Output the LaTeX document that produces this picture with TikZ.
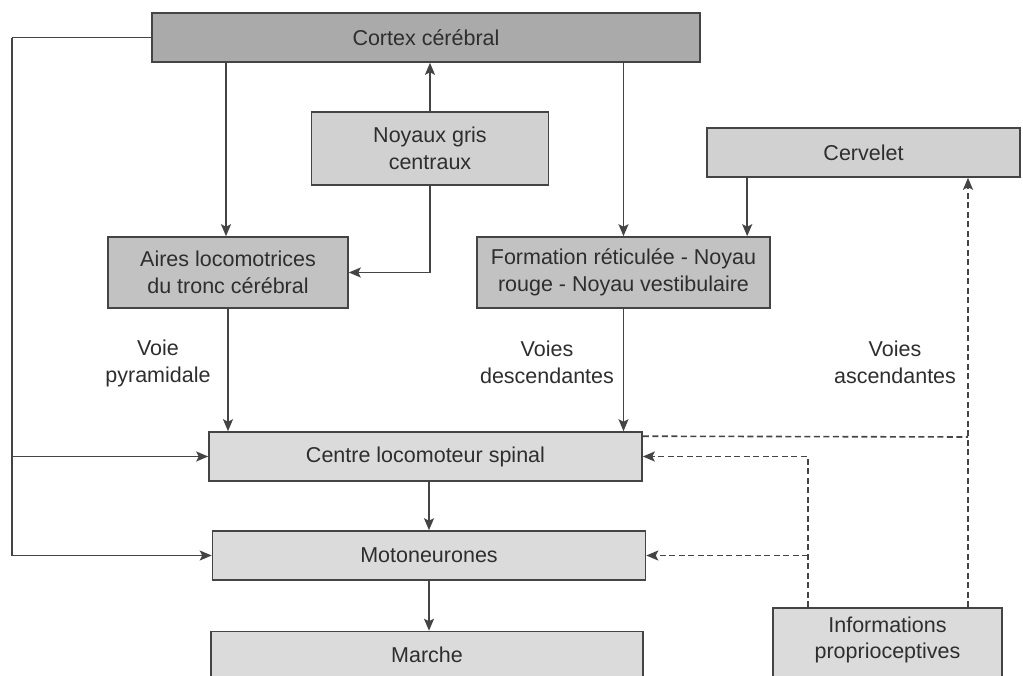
\documentclass[tikz,border=0pt]{standalone}
\usepackage{fontspec}
\setmainfont{Liberation Sans}
\usetikzlibrary{arrows.meta}
\definecolor{txt}{HTML}{2E2E2E}
\definecolor{ln}{HTML}{444444}
\definecolor{fA}{HTML}{AAAAAA}
\definecolor{fB}{HTML}{C2C2C2}
\definecolor{fC}{HTML}{D1D1D1}
\definecolor{fD}{HTML}{DBDBDB}
\tikzset{
  box/.style={draw=ln, line width=1.6pt, inner sep=0pt, align=center, text=txt,
    font=\fontsize{21.5}{26.5}\selectfont},
  lbl/.style={inner sep=0pt, align=center, text=txt, font=\fontsize{21.5}{26.5}\selectfont},
  arr/.style={draw=ln, line width=1.6pt, -{Stealth[length=12pt,width=10pt,inset=2.5pt]}},
  con/.style={draw=ln, line width=1.6pt},
  dsh/.style={dash pattern=on 6pt off 3.5pt},
}
\begin{document}
\begin{tikzpicture}[x=1pt,y=-1pt]
\useasboundingbox (0,0) rectangle (1023,675);
\clip (0,0) rectangle (1023,675);
\fill[white] (0,0) rectangle (1023,675);

\node[box, fill=fA, minimum width=548pt, minimum height=49pt] (cortex) at (426,37.5) {Cortex cérébral};
\node[box, fill=fC, minimum width=237pt, minimum height=73pt] (noyaux) at (430,148.5) {Noyaux gris\\centraux};
\node[box, fill=fB, minimum width=240pt, minimum height=71pt] (aires) at (228,272.5) {Aires locomotrices\\du tronc cérébral};
\node[box, fill=fB, minimum width=293pt, minimum height=71pt] (form) at (623.5,272.5) {Formation réticulée - Noyau\\rouge - Noyau vestibulaire};
\node[box, fill=fC, minimum width=313pt, minimum height=49pt] (cerv) at (863.5,152.5) {Cervelet};
\node[box, fill=fD, minimum width=433pt, minimum height=49pt] (centre) at (425.5,456.5) {Centre locomoteur spinal};
\node[box, fill=fD, minimum width=433pt, minimum height=49pt] (moto) at (429,555.5) {Motoneurones};
\node[box, fill=fD, minimum width=432pt, minimum height=46pt] (marche) at (427,654.5) {Marche};
\node[box, fill=fD, minimum width=229pt, minimum height=90pt, anchor=north] (info) at (887.5,607) {};
\node[lbl] (infotxt) at (887.5,640) {Informations\\proprioceptives};

\node[lbl] (vp) at (158,363.5) {Voie\\pyramidale};
\node[lbl] (vd) at (547,362.5) {Voies\\descendantes};
\node[lbl] (va) at (895,362.5) {Voies\\ascendantes};

% left feedback line
\coordinate (L) at (12,37.5);
\draw[con] (cortex.west) -- (L);
\draw[arr] (L) |- (moto.west);
\draw[arr] (L |- centre.west) -- (centre.west);

% cortex / noyaux
\draw[arr] (cortex.south -| 226,0) -- (aires.north -| 226,0);
\draw[arr] (noyaux.north) -- (noyaux.north |- cortex.south);
\draw[arr] (noyaux.south) |- (aires.east);
\draw[arr] (cortex.south -| form.north) -- (form.north);
\draw[arr] ([xshift=41pt]cerv.south west) -- ([xshift=41pt]cerv.south west |- form.north);

% down to spinal centre
\draw[arr] (aires.south) -- (aires.south |- centre.north);
\draw[arr] (form.south) -- (form.south |- centre.north);
\draw[arr] (centre.south -| moto.north) -- (moto.north);
\draw[arr] (moto.south) -- (moto.south |- marche.north);

% dashed ascending / proprioceptive
\coordinate (asc) at (968,607);
\coordinate (pr) at (808,607);
\draw[arr, dsh] (asc) -- (asc |- cerv.south);
\draw[con, dsh] ([yshift=-5pt]centre.north east) -- (asc |- 0,437);
\draw[arr, dsh] (pr) |- (centre.east);
\draw[arr, dsh] (pr |- moto.east) -- (moto.east);
\end{tikzpicture}
\end{document}
